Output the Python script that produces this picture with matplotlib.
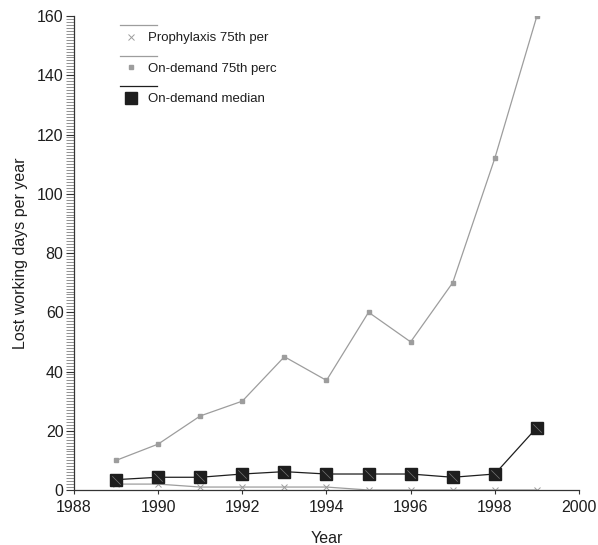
import matplotlib
matplotlib.use("Agg")
import matplotlib.pyplot as plt
import numpy as np
from matplotlib.legend_handler import HandlerLine2DCompound
from matplotlib.ticker import MultipleLocator

plt.rcParams['font.family'] = ['Liberation Sans', 'DejaVu Sans']

# lost working days per year, by calendar year
years = [1989, 1990, 1991, 1992, 1993, 1994, 1995, 1996, 1997, 1998, 1999]
prophylaxis_p75 = [2, 2, 1, 1, 1, 1, 0, 0, 0, 0, 0]
on_demand_p75 = [10, 15.5, 25, 30, 45, 37, 60, 50, 70, 112, 160]
on_demand_median = [3.5, 4.3, 4.3, 5.4, 6.2, 5.4, 5.4, 5.4, 4.3, 5.4, 21.1]

grey = '#9d9d9d'
ink = '#1e1e1e'


class RaisedLineHandler(HandlerLine2DCompound):
    """Legend key with the line sample drawn above the marker."""

    def create_artists(self, legend, orig_handle, xdescent, ydescent,
                       width, height, fontsize, trans):
        line, marker = super().create_artists(legend, orig_handle, xdescent, ydescent,
                                              width, height, fontsize, trans)
        y = (height - ydescent) / 2
        line.set_xdata([-xdescent, -xdescent + width * 1.35])
        line.set_ydata([y + 0.88 * fontsize] * 2)
        marker.set_xdata([-xdescent + width * 0.41])
        marker.set_ydata([y])
        return [line, marker]


fig = plt.figure(figsize=(5.98, 5.45), dpi=100)
ax = fig.add_axes([0.1237, 0.1009, 0.8445, 0.8697])

l1, = ax.plot(years, prophylaxis_p75, color=grey, lw=0.9, marker='x',
              ms=4.5, mew=0.7, label='Prophylaxis 75th per')
l2, = ax.plot(years, on_demand_p75, color=grey, lw=0.9, marker='s',
              ms=3.5, mec=grey, mfc=grey, label='On-demand 75th perc')
l3, = ax.plot(years, on_demand_median, color=ink, lw=0.9, marker='s',
              ms=8, mec=ink, mfc=ink, label='On-demand median')
# thin diagonal stroke across each median square
ax.plot(years, on_demand_median, ls='none', marker=[(-1, 1), (1, -1)],
        ms=6, mec='#777777', mew=0.5)

ax.set_xlim(1988, 2000)
ax.set_ylim(0, 160)
ax.xaxis.set_major_locator(MultipleLocator(2))
ax.yaxis.set_major_locator(MultipleLocator(20))
ax.yaxis.set_minor_locator(MultipleLocator(1))

for side in ['top', 'right']:
    ax.spines[side].set_visible(False)
for side in ['left', 'bottom']:
    ax.spines[side].set_color('#333333')
    ax.spines[side].set_linewidth(0.9)

ax.tick_params(axis='y', which='major', length=5.5, width=0.8, color='#333333',
               labelsize=11.5, labelcolor=ink, pad=2)
ax.tick_params(axis='y', which='minor', length=5.5, width=0.5, color='#666666')
ax.tick_params(axis='x', which='major', length=3, width=0.8, color='#333333',
               labelsize=11.5, labelcolor=ink, pad=4)

ax.set_xlabel('Year', fontsize=11.5, color=ink, labelpad=12)
ax.set_ylabel('Lost working days per year', fontsize=11.5, color=ink, labelpad=6)

ax.legend(handles=[l1, l2, l3], loc='upper left', bbox_to_anchor=(0.091, 0.966),
          frameon=False, fontsize=9.5, borderpad=0, borderaxespad=0,
          handlelength=2.1, handletextpad=0.0, labelspacing=1.38,
          handler_map={l1: RaisedLineHandler(), l2: RaisedLineHandler(),
                       l3: RaisedLineHandler()},
          labelcolor=ink)

fig.savefig('out.png', dpi=100)
